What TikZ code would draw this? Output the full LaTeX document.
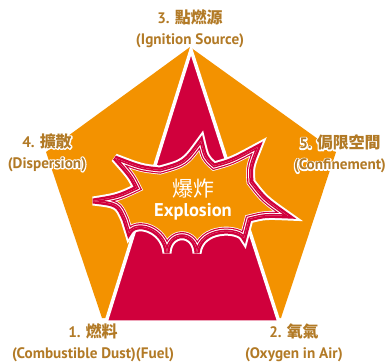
\documentclass[tikz,border=0pt]{standalone}
\usepackage{fontspec}
\setmainfont{PT Sans}
\newfontfamily\cjk{Noto Sans CJK TC}[Scale=1.05]
\definecolor{orng}{RGB}{243,146,0}
\definecolor{crim}{RGB}{208,0,60}
\definecolor{gold}{RGB}{178,122,38}
\newcommand{\halo}[1]{\makebox[0pt][l]{\special{pdf:literal direct q 1 1 1 RG 2.4 w 1 j 1 J 1 Tr}#1\special{pdf:literal direct 0 Tr Q}}#1}
\newcommand{\twolines}[2]{#1\\#2}
\newcommand{\twohalo}[2]{\halo{#1}\\\halo{#2}}
\def\burstpath{(93,201) .. controls (118,197) .. (137,188)
 .. controls (131,176) .. (115,158)
 .. controls (141,168) .. (160,170)
 .. controls (185,163) .. (201,141)
 .. controls (205,158) .. (214,166)
 .. controls (232,161) .. (258,147)
 .. controls (250,167) .. (251,182)
 .. controls (264,199) .. (288,216)
 .. controls (265,215) .. (249,219)
 -- (244,238)
 .. controls (240,228) and (200,226) .. (197,253)
 .. controls (196,230) and (168,230) .. (167,253)
 .. controls (165,228) and (135,220) .. (129,233)
 -- (125,220)
 .. controls (118,204) .. (93,201) -- cycle}
\begin{document}
\begin{tikzpicture}[x=1pt,y=-1pt,
  lbl/.style={text=gold, font=\fontsize{15.2}{21}\selectfont\bfseries, align=center, inner sep=0pt},
  burstline/.style={line join=miter, miter limit=4}]
\useasboundingbox (0,0) rectangle (386,362);
% pentagon
\fill[orng] (190,47) -- (336,152) -- (281,318) -- (102,318) -- (46,152) -- cycle;
% red mountain
\filldraw[fill=crim, draw=white, line width=3.5pt, line join=miter] (191,50) -- (279,322) -- (106,322) -- cycle;
% explosion burst
\fill[orng] \burstpath;
\draw[white, line width=9pt, burstline] \burstpath;
\draw[crim, line width=5pt, burstline] \burstpath;
\begin{scope}
  \clip \burstpath;
  \draw[crim, line width=7.4pt, burstline] \burstpath;
  \draw[white, line width=5pt, burstline] \burstpath;
  \draw[crim, line width=3pt, burstline] \burstpath;
\end{scope}
% center text
\node[text=white, inner sep=0pt, font=\fontsize{20}{20}\selectfont\cjk] (bz) at (193,189) {爆炸};
\node[text=white, inner sep=0pt, font=\fontsize{18.5}{18.5}\selectfont\bfseries] (be) at (193,212) {Explosion};
% labels
\node[lbl] (l3) at (190,28.5) {\twolines{3. {\cjk 點燃源}}{(Ignition Source)}};
\node[lbl] (l4) at (47,152.5) {\twohalo{4. {\cjk 擴散}}{(Dispersion)}};
\node[lbl] (l5) at (340,154) {\twohalo{5. {\cjk 侷限空間}}{(Confinement)}};
\node[lbl] (l1) at (93,343) {\twolines{1. {\cjk 燃料}}{(Combustible Dust)(Fuel)}};
\node[lbl] (l2) at (294,343) {\twolines{2. {\cjk 氧氣}}{(Oxygen in Air)}};
\end{tikzpicture}
\end{document}
